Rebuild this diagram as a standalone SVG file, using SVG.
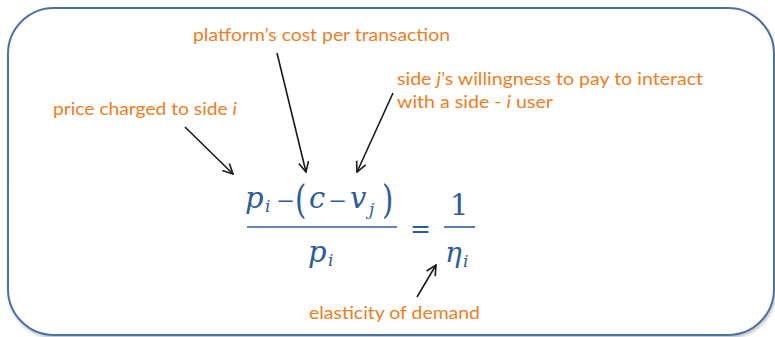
<svg xmlns="http://www.w3.org/2000/svg" width="775" height="337" viewBox="0 0 775 337">
<defs>
<filter id="sh" x="-5%" y="-5%" width="110%" height="110%">
<feGaussianBlur in="SourceAlpha" stdDeviation="1.5"/>
<feOffset dx="1" dy="1.5" result="b"/>
<feComponentTransfer><feFuncA type="linear" slope="0.25"/></feComponentTransfer>
<feMerge><feMergeNode/><feMergeNode in="SourceGraphic"/></feMerge>
</filter>
<marker id="ah" viewBox="0 0 12 12" refX="11" refY="6" markerWidth="12" markerHeight="12" markerUnits="userSpaceOnUse" orient="auto">
<path d="M1,1 L11,6 L1,11" fill="none" stroke="#1a1a1a" stroke-width="1.6"/>
</marker>
</defs>
<style>
.lbl{font-family:Lato,"Liberation Sans",sans-serif;font-size:17px;fill:#f07d22}
.eq{font-family:"DejaVu Serif","Liberation Serif",serif;font-style:italic;fill:#2d5c9e}
.up{font-family:"DejaVu Serif","Liberation Serif",serif;fill:#2d5c9e}
.ar{stroke:#1a1a1a;stroke-width:1.6;fill:none;marker-end:url(#ah)}
.bar{stroke:#2d5c9e;stroke-width:1.6}
</style>
<rect id="frame" x="8" y="8" width="766" height="327" rx="46" ry="46" fill="#fff" stroke="#4b72a6" stroke-width="2" filter="url(#sh)"/>

<g id="label-cost"><text class="lbl" x="193" y="41" textLength="257" lengthAdjust="spacingAndGlyphs">platform’s cost per transaction</text></g>
<g id="label-willingness">
<text class="lbl" x="397" y="85" textLength="306" lengthAdjust="spacingAndGlyphs">side <tspan font-style="italic">j</tspan>’s willingness to pay to interact</text>
<text class="lbl" x="397" y="108" textLength="156" lengthAdjust="spacingAndGlyphs">with a side - <tspan font-style="italic">i</tspan> user</text>
</g>
<g id="label-price"><text class="lbl" x="53" y="115" textLength="184" lengthAdjust="spacingAndGlyphs">price charged to side <tspan font-style="italic">i</tspan></text></g>
<g id="label-elasticity"><text class="lbl" x="309" y="319" textLength="171" lengthAdjust="spacingAndGlyphs">elasticity of demand</text></g>

<g id="equation">
<text class="eq" x="245" y="208" font-size="29">p</text>
<text class="eq" x="265" y="212" font-size="17">i</text>
<text class="up" font-size="19" transform="translate(276,207) scale(1.2,1)">−</text>
<text class="up" font-size="29" transform="translate(295,213) scale(1,1.35)">(</text>
<text class="eq" x="309" y="208" font-size="29">c</text>
<text class="up" font-size="19" transform="translate(328,207) scale(1.2,1)">−</text>
<text class="eq" x="350" y="208" font-size="29">v</text>
<text class="eq" x="369" y="215" font-size="17">j</text>
<text class="up" font-size="29" transform="translate(382,213) scale(1,1.35)">)</text>
<line class="bar" x1="247" y1="227" x2="397" y2="227"/>
<text class="eq" x="308" y="262" font-size="29">p</text>
<text class="eq" x="328" y="266" font-size="17">i</text>
<text class="up" x="410" y="237" font-size="25">=</text>
<text class="up" x="450" y="215" font-size="29">1</text>
<line class="bar" x1="444" y1="227" x2="475" y2="227"/>
<text class="eq" x="445" y="262" font-size="28">η</text>
<text class="eq" x="463" y="267" font-size="17">i</text>
</g>

<g id="connectors">
<line class="ar" x1="185" y1="127" x2="233" y2="174"/>
<line class="ar" x1="277" y1="53" x2="306" y2="172"/>
<line class="ar" x1="393" y1="93" x2="357" y2="172"/>
<line class="ar" x1="417" y1="297" x2="436" y2="265"/>
</g>
</svg>
